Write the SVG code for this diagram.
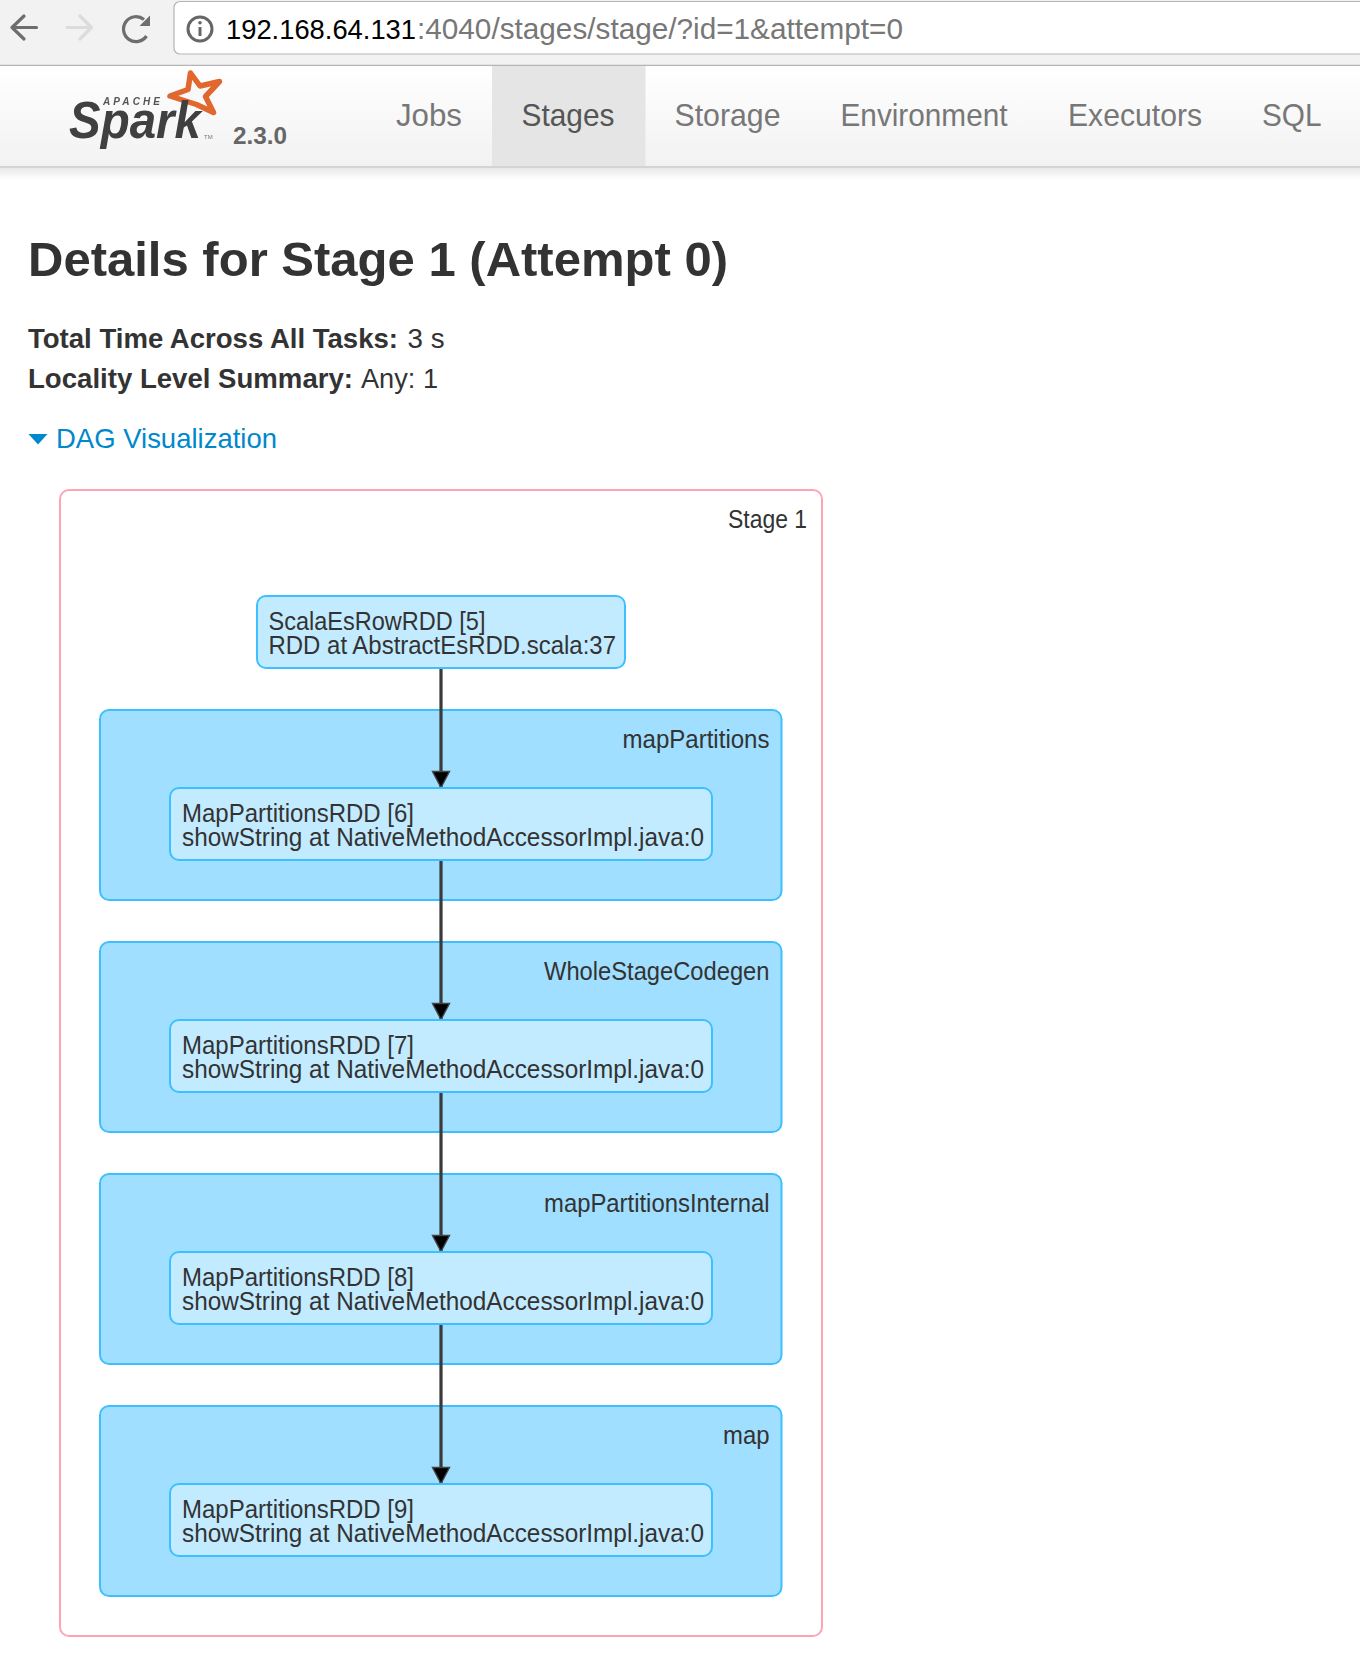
<svg xmlns="http://www.w3.org/2000/svg" width="1360" height="1654" viewBox="0 0 1360 1654">
<style>
text{font-family:"Liberation Sans",Arial,sans-serif;fill:#333}
.nav{font-size:30.500px;fill:#777}
.info{font-size:28px}
.b{font-weight:bold}
.lab{font-size:25px}
.node-text{font-size:25px}
.cluster{fill:#A0DFFF;stroke:#3EC0FF;stroke-width:2}
.rdd{fill:#C3EBFF;stroke:#3EC0FF;stroke-width:2}
.edge{stroke:#3a3a3a;stroke-width:3.200;fill:none;marker-end:url(#arrow)}
</style>
<defs>
<linearGradient id="navbg" x1="0" y1="0" x2="0" y2="1"><stop offset="0" stop-color="#ffffff"/><stop offset="1" stop-color="#f2f2f2"/></linearGradient>
<linearGradient id="shadow" x1="0" y1="0" x2="0" y2="1"><stop offset="0" stop-color="#e8e8e8"/><stop offset="1" stop-color="#ffffff"/></linearGradient>
<filter id="soft" x="-5%" y="-5%" width="110%" height="110%"><feGaussianBlur stdDeviation="0.6"/></filter>
<marker id="arrow" markerUnits="userSpaceOnUse" markerWidth="20" markerHeight="20" refX="18" refY="10" orient="auto"><path d="M1.500 1.500 L1.500 18.500 L17.500 10 Z" fill="#000" stroke="#444" stroke-width="1.400" stroke-linejoin="miter"/></marker>
</defs>
<rect width="1360" height="1654" fill="#fff"/>

<g id="browser-bar">
<rect x="0" y="0" width="1360" height="65" fill="#f2f2f2"/>
<line x1="0" y1="65.500" x2="1360" y2="65.500" stroke="#b5b5b5" stroke-width="1.500"/>
<rect x="174" y="1.500" width="1200" height="52.500" rx="6" fill="#fff" stroke="#b5b5b5" stroke-width="1.200"/>
<path d="M36.500 27.500H12M24 16L12 27.500L24 39" fill="none" stroke="#6e6e6e" stroke-width="3.200" stroke-linecap="round" stroke-linejoin="round"/>
<path d="M67 27.500H91.500M80 16L91.500 27.500L80 39" fill="none" stroke="#dcdcdc" stroke-width="3.200" stroke-linecap="round" stroke-linejoin="round"/>
<path d="M146.500 36 A12.500 12.500 0 1 1 144 19.500" fill="none" stroke="#6e6e6e" stroke-width="3.200"/>
<path d="M150 15.500V26H139.500Z" fill="#6e6e6e"/>
<circle cx="200" cy="29" r="12" fill="none" stroke="#666" stroke-width="3"/>
<rect x="198.500" y="27" width="3" height="9" fill="#666"/><circle cx="200" cy="22.800" r="1.800" fill="#666"/>
<text x="226" y="39" font-size="28.500" textLength="190" lengthAdjust="spacingAndGlyphs" style="fill:#000">192.168.64.131</text>
<text x="417" y="39" font-size="29.500" textLength="486" lengthAdjust="spacingAndGlyphs" style="fill:#777">:4040/stages/stage/?id=1&amp;attempt=0</text>
</g>

<g id="navbar">
<rect x="0" y="66" width="1360" height="100" fill="url(#navbg)"/>
<rect x="492" y="66" width="153.500" height="100" fill="#e5e5e5"/>
<rect x="0" y="166" width="1360" height="2" fill="#d4d4d4"/>
<rect x="0" y="168" width="1360" height="12" fill="url(#shadow)"/>
<g id="logo" filter="url(#soft)">
<path d="M190.500 73L200 86L219.500 81.500L205.500 96.500L213.500 112.500L196.500 104.500L170 96L188 89.500Z" fill="#f8f8f8" stroke="#E0682E" stroke-width="5.500" stroke-linejoin="round"/>
<text x="103" y="105" font-size="10" font-weight="bold" font-style="italic" textLength="57" style="fill:#555">APACHE</text>
<text x="69" y="138" font-size="52" font-weight="bold" font-style="italic" textLength="132" lengthAdjust="spacingAndGlyphs" style="fill:#3f3f3f">Spark</text>
<text x="204" y="139" font-size="6" style="fill:#777">TM</text>
</g>
<text x="233" y="144" font-size="24" font-weight="bold" textLength="54" lengthAdjust="spacingAndGlyphs" style="fill:#666">2.3.0</text>
<text class="nav" x="396" y="126" textLength="66" lengthAdjust="spacingAndGlyphs">Jobs</text>
<text class="nav" x="521.500" y="126" textLength="93" lengthAdjust="spacingAndGlyphs" style="fill:#555">Stages</text>
<text class="nav" x="674.500" y="126" textLength="106" lengthAdjust="spacingAndGlyphs">Storage</text>
<text class="nav" x="840.500" y="126" textLength="167" lengthAdjust="spacingAndGlyphs">Environment</text>
<text class="nav" x="1068" y="126" textLength="134" lengthAdjust="spacingAndGlyphs">Executors</text>
<text class="nav" x="1262" y="126" textLength="59.500" lengthAdjust="spacingAndGlyphs">SQL</text>
</g>

<g id="summary">
<text x="28" y="276" font-size="49" font-weight="bold" textLength="700" lengthAdjust="spacingAndGlyphs">Details for Stage 1 (Attempt 0)</text>
<text class="info b" x="28" y="348" textLength="370" lengthAdjust="spacingAndGlyphs">Total Time Across All Tasks:</text>
<text class="info" x="407.500" y="348" textLength="37" lengthAdjust="spacingAndGlyphs">3 s</text>
<text class="info b" x="28" y="388" textLength="325" lengthAdjust="spacingAndGlyphs">Locality Level Summary:</text>
<text class="info" x="361" y="388" textLength="77" lengthAdjust="spacingAndGlyphs">Any: 1</text>
<path d="M28.500 434H47.500L38 444.500Z" fill="#0088cc"/>
<text x="56" y="448" font-size="28" textLength="221" lengthAdjust="spacingAndGlyphs" style="fill:#0088cc">DAG Visualization</text>
</g>

<g id="stage-1">
<rect x="60" y="490" width="762" height="1146" rx="9" fill="#fff" stroke="#FFA4B4" stroke-width="2"/>
<text class="lab" x="728" y="528" textLength="79" lengthAdjust="spacingAndGlyphs">Stage 1</text>
</g>

<g id="cluster-mapPartitions">
<rect class="cluster" x="100" y="710" width="681.500" height="190" rx="9"/>
<text class="lab" x="622.500" y="748" textLength="147" lengthAdjust="spacingAndGlyphs">mapPartitions</text>
</g>
<g id="cluster-WholeStageCodegen">
<rect class="cluster" x="100" y="942" width="681.500" height="190" rx="9"/>
<text class="lab" x="544" y="980" textLength="225.500" lengthAdjust="spacingAndGlyphs">WholeStageCodegen</text>
</g>
<g id="cluster-mapPartitionsInternal">
<rect class="cluster" x="100" y="1174" width="681.500" height="190" rx="9"/>
<text class="lab" x="544" y="1212" textLength="225.500" lengthAdjust="spacingAndGlyphs">mapPartitionsInternal</text>
</g>
<g id="cluster-map">
<rect class="cluster" x="100" y="1406" width="681.500" height="190" rx="9"/>
<text class="lab" x="723" y="1444" textLength="46.500" lengthAdjust="spacingAndGlyphs">map</text>
</g>

<g id="connectors">
<line class="edge" x1="441" y1="668" x2="441" y2="788"/>
<line class="edge" x1="441" y1="860" x2="441" y2="1020"/>
<line class="edge" x1="441" y1="1092" x2="441" y2="1252"/>
<line class="edge" x1="441" y1="1324" x2="441" y2="1484"/>
</g>

<g id="node-5">
<rect class="rdd" x="257" y="596" width="368" height="72" rx="9"/>
<text class="node-text" x="268.500" y="630" textLength="217" lengthAdjust="spacingAndGlyphs">ScalaEsRowRDD [5]</text>
<text class="node-text" x="268.500" y="654" textLength="347.500" lengthAdjust="spacingAndGlyphs">RDD at AbstractEsRDD.scala:37</text>
</g>
<g id="node-6">
<rect class="rdd" x="170" y="788" width="542" height="72" rx="9"/>
<text class="node-text" x="182" y="822" textLength="232" lengthAdjust="spacingAndGlyphs">MapPartitionsRDD [6]</text>
<text class="node-text" x="182" y="846" textLength="522" lengthAdjust="spacingAndGlyphs">showString at NativeMethodAccessorImpl.java:0</text>
</g>
<g id="node-7">
<rect class="rdd" x="170" y="1020" width="542" height="72" rx="9"/>
<text class="node-text" x="182" y="1054" textLength="232" lengthAdjust="spacingAndGlyphs">MapPartitionsRDD [7]</text>
<text class="node-text" x="182" y="1078" textLength="522" lengthAdjust="spacingAndGlyphs">showString at NativeMethodAccessorImpl.java:0</text>
</g>
<g id="node-8">
<rect class="rdd" x="170" y="1252" width="542" height="72" rx="9"/>
<text class="node-text" x="182" y="1286" textLength="232" lengthAdjust="spacingAndGlyphs">MapPartitionsRDD [8]</text>
<text class="node-text" x="182" y="1310" textLength="522" lengthAdjust="spacingAndGlyphs">showString at NativeMethodAccessorImpl.java:0</text>
</g>
<g id="node-9">
<rect class="rdd" x="170" y="1484" width="542" height="72" rx="9"/>
<text class="node-text" x="182" y="1518" textLength="232" lengthAdjust="spacingAndGlyphs">MapPartitionsRDD [9]</text>
<text class="node-text" x="182" y="1542" textLength="522" lengthAdjust="spacingAndGlyphs">showString at NativeMethodAccessorImpl.java:0</text>
</g>
</svg>
